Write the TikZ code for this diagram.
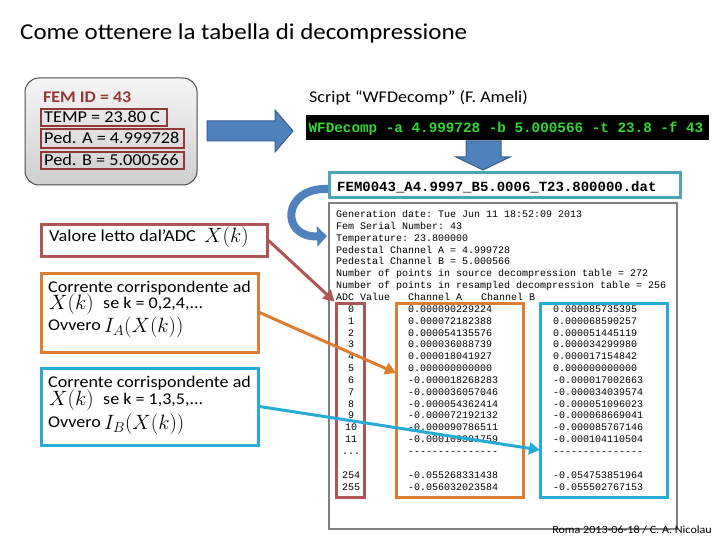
\documentclass[tikz,border=0pt]{standalone}
\usepackage{fontspec}
\setmainfont{Carlito}[FakeStretch=1.1]
\setmonofont{Liberation Mono}
\usetikzlibrary{arrows.meta}
\definecolor{femred}{RGB}{150,55,55}
\definecolor{adcred}{RGB}{175,85,85}
\definecolor{orbox}{RGB}{220,125,50}
\definecolor{cybox}{RGB}{40,170,215}
\definecolor{tealbox}{RGB}{75,165,185}
\definecolor{tabgray}{RGB}{128,128,128}
\definecolor{arrblue}{RGB}{79,129,189}
\definecolor{arrdark}{RGB}{56,93,138}
\definecolor{termgreen}{RGB}{50,215,50}
\newcommand\ttsetup{\ttfamily\fontsize{10}{12}\selectfont\spaceskip=6pt\relax\xspaceskip=6pt\relax}
\tikzset{
  txt/.style={inner sep=0pt, anchor=base west},
  tt/.style={inner sep=0pt, anchor=base west, font=\ttsetup},
  ttc/.style={inner sep=0pt, anchor=base, font=\ttsetup},
  fembox/.style={draw=femred, line width=2pt},
  colbox/.style={line width=3pt},
  conn/.style={line width=3pt, -{Triangle[length=11pt,width=12pt]}},
  blockarrow/.style={fill=arrblue, draw=arrdark, line width=1pt},
  lefttxt/.style={txt, font=\fontsize{16.4}{19}\selectfont},
  femtxt/.style={txt, font=\fontsize{16.6}{20}\selectfont},
  mathtxt/.style={txt, font=\fontsize{20}{24}\selectfont},
}
\begin{document}
\begin{tikzpicture}[x=1pt,y=-1pt]
\useasboundingbox (0,0) rectangle (720,540);
% title
\node[txt, font=\fontsize{22.7}{27}\selectfont] (title) at (20,40) {Come ottenere la tabella di decompressione};
% FEM info box
\draw[draw=black!70, line width=1pt, rounded corners=14pt, top color=gray!8, bottom color=gray!38] (25,78) rectangle (197,185);
\node[txt, font=\bfseries\fontsize{16.3}{20}\selectfont, text=femred] (femid) at (43,103) {FEM ID = 43};
\draw[fembox] (41,109) rectangle (167,126);
\node[femtxt] (temp) at (44,123) {TEMP = 23.80 C};
\draw[fembox] (41,129) rectangle (184,148);
\node[femtxt] (peda) at (44,144) {Ped. A = 4.999728};
\draw[fembox] (41,152) rectangle (184,169);
\node[femtxt] (pedb) at (44,165.5) {Ped. B = 5.000566};
% right block arrow
\draw[blockarrow] (207,121) -- (275,121) -- (275,110) -- (293,131) -- (275,152) -- (275,141) -- (207,141) -- cycle;
% script
\node[txt, font=\fontsize{16.4}{20}\selectfont] (script) at (309,103) {Script “WFDecomp” (F. Ameli)};
\fill[black] (306,115) rectangle (709,140);
\node[inner sep=0pt, anchor=base, text=termgreen, font=\ttfamily\bfseries\fontsize{14.3}{16}\selectfont] (cmd) at (506,133) {WFDecomp -a 4.999728 -b 5.000566 -t 23.8 -f 43};
% down block arrow
\draw[blockarrow] (466,141) -- (501,141) -- (501,157) -- (510,157) -- (483,170) -- (456,157) -- (466,157) -- cycle;
% filename
\draw[draw=tealbox, line width=3pt] (329,173) rectangle (680,198);
\node[txt, font=\ttfamily\bfseries\fontsize{14}{16}\selectfont] (fname) at (337,192) {FEM0043\_A4.9997\_B5.0006\_T23.800000.dat};
% curved arrow
\draw[arrblue, line width=8pt, -{Triangle[length=10pt,width=20pt]}] (328,189) .. controls (282,187) and (280,238) .. (327,236);
% table box
\draw[draw=tabgray, line width=2pt] (329,203) rectangle (677,529);
\node[tt] (h0) at (336,{217.5+11.85*0}) {Generation date: Tue Jun 11 18:52:09 2013};
\node[tt] (h1) at (336,{217.5+11.85*1}) {Fem Serial Number: 43};
\node[tt] (h2) at (336,{217.5+11.85*2}) {Temperature: 23.800000};
\node[tt] (h3) at (336,{217.5+11.85*3}) {Pedestal Channel A = 4.999728};
\node[tt] (h4) at (336,{217.5+11.85*4}) {Pedestal Channel B = 5.000566};
\node[tt] (h5) at (336,{217.5+11.85*5}) {Number of points in source decompression table = 272};
\node[tt] (h6) at (336,{217.5+11.85*6}) {Number of points in resampled decompression table = 256};
\node[tt] (h7a) at (336,{217.5+11.85*7}) {ADC Value};
\node[tt] (h7b) at (408,{217.5+11.85*7}) {Channel A};
\node[tt] (h7c) at (481,{217.5+11.85*7}) {Channel B};
\foreach \i/\a/\b/\c in {8/0/0.000090229224/0.000085735395,
  9/1/0.000072182388/0.000068590257,
  10/2/0.000054135576/0.000051445119,
  11/3/0.000036088739/0.000034299980,
  12/4/0.000018041927/0.000017154842,
  13/5/0.000000000000/0.000000000000,
  14/6/-0.000018268283/-0.000017002663,
  15/7/-0.000036057046/-0.000034039574,
  16/8/-0.000054362414/-0.000051096023,
  17/9/-0.000072192132/-0.000068669041,
  18/10/-0.000090786511/-0.000085767146,
  19/11/-0.000109381759/-0.000104110504,
  22/254/-0.055268331438/-0.054753851964,
  23/255/-0.056032023584/-0.055502767153} {
  \node[ttc] at (351,{217.5+11.85*\i}) {\a};
  \node[tt] at (408,{217.5+11.85*\i}) {\b};
  \node[tt] at (553,{217.5+11.85*\i}) {\c};
}
\node[ttc] (dots) at (351,{217.5+11.85*20}) {...};
\node[tt] (dashA) at (408,{217.5+11.85*20}) {{-}{-}{-}{-}{-}{-}{-}{-}{-}{-}{-}{-}{-}{-}{-}};
\node[tt] (dashB) at (553,{217.5+11.85*20}) {{-}{-}{-}{-}{-}{-}{-}{-}{-}{-}{-}{-}{-}{-}{-}};
% column boxes
\node[draw=adcred, colbox, inner sep=0pt, minimum width=28pt, minimum height=194pt] (adccol) at (350,400) {};
\node[draw=orbox, colbox, inner sep=0pt, minimum width=127pt, minimum height=194pt] (acol) at (459.5,400) {};
\node[draw=cybox, colbox, inner sep=0pt, minimum width=127pt, minimum height=194pt] (bcol) at (603.5,400) {};
% left explanation boxes
\node[draw=adcred, colbox, inner sep=0pt, minimum width=226pt, minimum height=31pt] (valore) at (154,240.5) {};
\node[txt, font=\fontsize{16.7}{19}\selectfont] (valt) at (49,241) {Valore letto dal’ADC};
\node[mathtxt] (valm) at (204,243) {$X(k)$};
\node[draw=orbox, colbox, inner sep=0pt, minimum width=217pt, minimum height=79pt] (obox) at (149.5,312.5) {};
\node[lefttxt] (o1) at (48,292) {Corrente corrispondente ad};
\node[mathtxt] (o2m) at (49,309) {$X(k)$};
\node[lefttxt] (o2) at (103,308) {se k = 0,2,4,...};
\node[lefttxt] (o3) at (48,330) {Ovvero};
\node[mathtxt] (o3m) at (104,332) {$I_A(X(k))$};
\node[draw=cybox, colbox, inner sep=0pt, minimum width=217pt, minimum height=77pt] (cbox) at (149.5,406.5) {};
\node[lefttxt] (c1) at (48,387) {Corrente corrispondente ad};
\node[mathtxt] (c2m) at (49,405) {$X(k)$};
\node[lefttxt] (c2) at (103,404) {se k = 1,3,5,...};
\node[lefttxt] (c3) at (48,427) {Ovvero};
\node[mathtxt] (c3m) at (104,429) {$I_B(X(k))$};
% connectors
\coordinate (aend) at (396,373);
\coordinate (bend) at (540,450);
\draw[conn, adcred] (valore.east) -- (adccol.north west);
\draw[conn, orbox] (obox.east) -- (aend);
\draw[conn, cybox] (cbox.east) -- (bend);
% footer
\node[inner sep=0pt, anchor=base east, font=\fontsize{11}{13}\selectfont] (foot) at (712,533) {Roma 2013-06-18 / C. A. Nicolau};
\end{tikzpicture}
\end{document}
